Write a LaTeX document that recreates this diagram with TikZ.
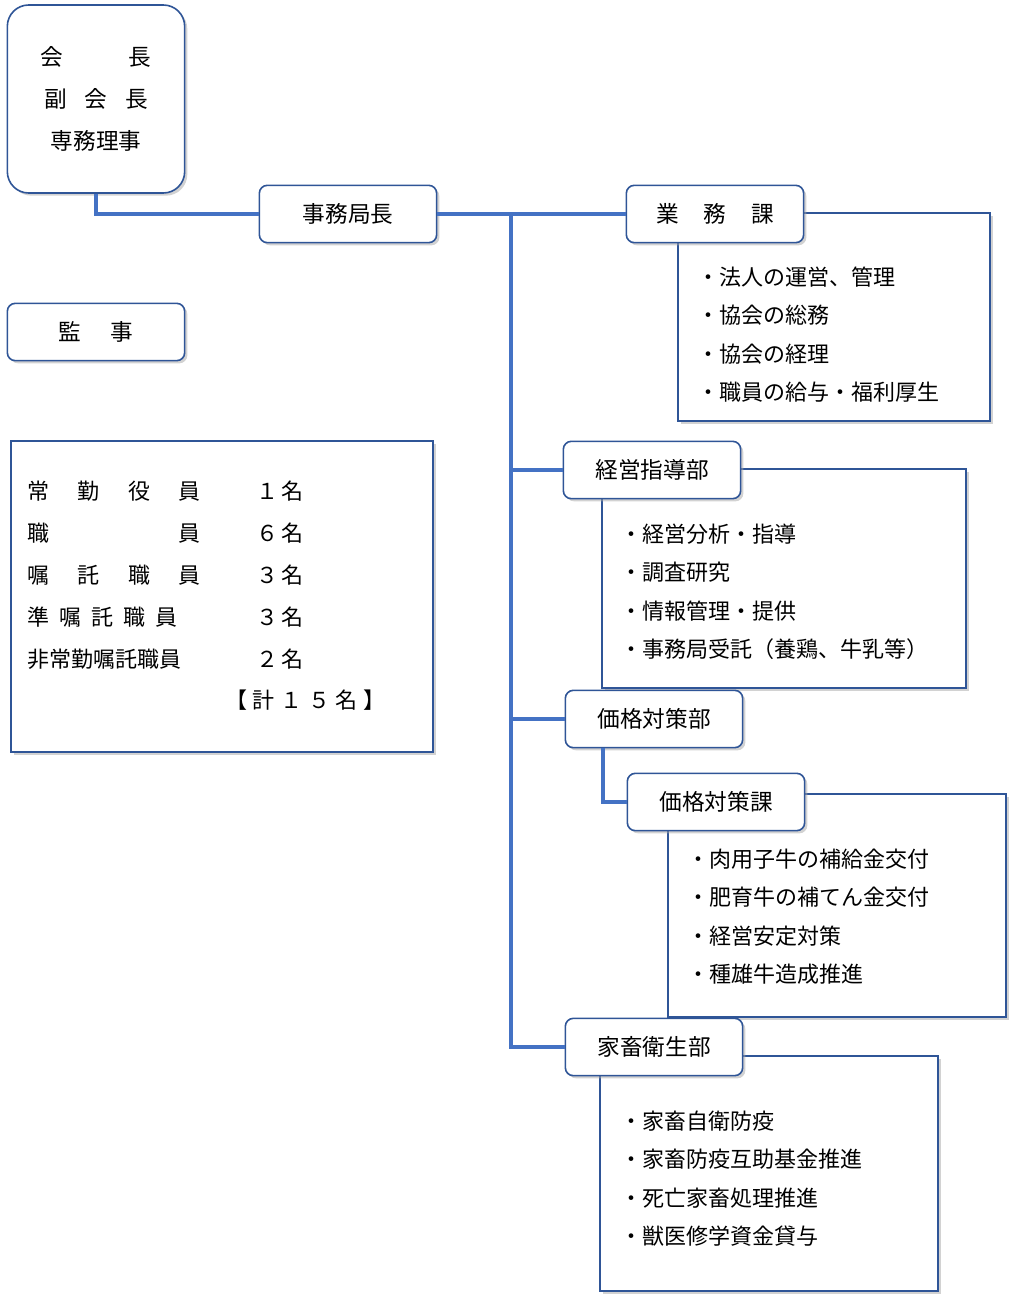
\documentclass[tikz,border=0pt]{standalone}
\usepackage{fontspec}
\setmainfont{Noto Sans CJK JP}
\usetikzlibrary{shadows}
\definecolor{linkblue}{HTML}{4472C4}
\definecolor{edgeblue}{HTML}{2F5597}
\tikzset{
  unitbox/.style={draw=edgeblue, line width=1.2pt, fill=white, rounded corners=6pt,
    minimum width=133pt, minimum height=43pt, font=\fontsize{17}{20}\selectfont,
    drop shadow={shadow xshift=2pt, shadow yshift=-2pt, fill=black!35}},
  taskbox/.style={draw=edgeblue, line width=1.2pt, fill=white,
    drop shadow={shadow xshift=2pt, shadow yshift=-2pt, fill=black!35}},
  task/.style={anchor=west, font=\fontsize{16.5}{19}\selectfont, inner sep=0pt},
  link/.style={draw=linkblue, line width=3pt}
}
\begin{document}
\begin{tikzpicture}[x=0.75pt, y=-0.75pt]
\useasboundingbox (0,0) rectangle (1020,1305);

% detail boxes (behind)
\draw[taskbox] (678,213) rectangle (990,421);
\draw[taskbox] (602,469) rectangle (966,688);
\draw[taskbox] (668,794) rectangle (1006,1017);
\draw[taskbox] (600,1056) rectangle (938,1291);
\draw[taskbox] (11,441) rectangle (433,752);

% connectors
\coordinate (trunktop) at (511,214);
\coordinate (trunkbot) at (511,1047);
\coordinate (kakakuturn) at (603,802);
\coordinate (topturn) at (96,214);

% top
\node[unitbox, rounded corners=16pt, minimum height=141pt, align=center,
  font=\fontsize{17}{31.5}\selectfont] (kaicho) at (96,99)
  {\makebox[83pt][s]{会\hfill 長}\\ \makebox[78pt][s]{副\hfill 会\hfill 長}\\ 専務理事};
\node[unitbox] (jimu) at (348,214) {事務局長};
\node[unitbox] (gyomu) at (715,214) {\makebox[88pt][s]{業\hfill 務\hfill 課}};
\node[unitbox] (kansa) at (96,332) {\makebox[56pt][s]{監\hfill 事}};
\node[unitbox] (keiei) at (652,470) {経営指導部};
\node[unitbox] (kakaku) at (654,719) {価格対策部};
\node[unitbox] (kakakuka) at (716,802) {価格対策課};
\node[unitbox] (eisei) at (654,1047) {家畜衛生部};

\draw[link] (kaicho.south) -- (topturn) -- (jimu.west);
\draw[link] (jimu.east) -- (gyomu.west);
\draw[link] (trunktop) -- (trunkbot) -- (eisei.west);
\draw[link] (keiei.west -| trunktop) -- (keiei.west);
\draw[link] (kakaku.west -| trunktop) -- (kakaku.west);
\draw[link] (kakaku.south -| kakakuturn) -- (kakakuturn) -- (kakakuka.west);

% tasks
\foreach \t [count=\i] in {・法人の運営、管理, ・協会の総務, ・協会の経理, ・職員の給与・福利厚生}
  \node[task] (g\i) at (697,239+38.3*\i) {\t};
\foreach \t [count=\i] in {・経営分析・指導, ・調査研究, ・情報管理・提供, ・事務局受託（養鶏、牛乳等）}
  \node[task] (k\i) at (620,496+38.3*\i) {\t};
\foreach \t [count=\i] in {・肉用子牛の補給金交付, ・肥育牛の補てん金交付, ・経営安定対策, ・種雄牛造成推進}
  \node[task] (p\i) at (687,821+38.3*\i) {\t};
\foreach \t [count=\i] in {・家畜自衛防疫, ・家畜防疫互助基金推進, ・死亡家畜処理推進, ・獣医修学資金貸与}
  \node[task] (e\i) at (620,1083+38.3*\i) {\t};

% staff
\foreach \t/\w/\n [count=\i] in {{常\hfill 勤\hfill 役\hfill 員}/130/１\,名, {職\hfill 員}/130/６\,名,
  {嘱\hfill 託\hfill 職\hfill 員}/130/３\,名, {準\hfill 嘱\hfill 託\hfill 職\hfill 員}/113/３\,名,
  {非常勤嘱託職員}/130/２\,名} {
  \node[task] (s\i) at (27,449+42*\i) {\makebox[\w pt][s]{\t}};
  \node[task] (n\i) at (256,449+42*\i) {\n};
}
\node[task] (total) at (225,700) {\makebox[120pt][s]{【\hfill 計\hfill １\hfill ５\hfill 名\hfill 】}};
\end{tikzpicture}
\end{document}
